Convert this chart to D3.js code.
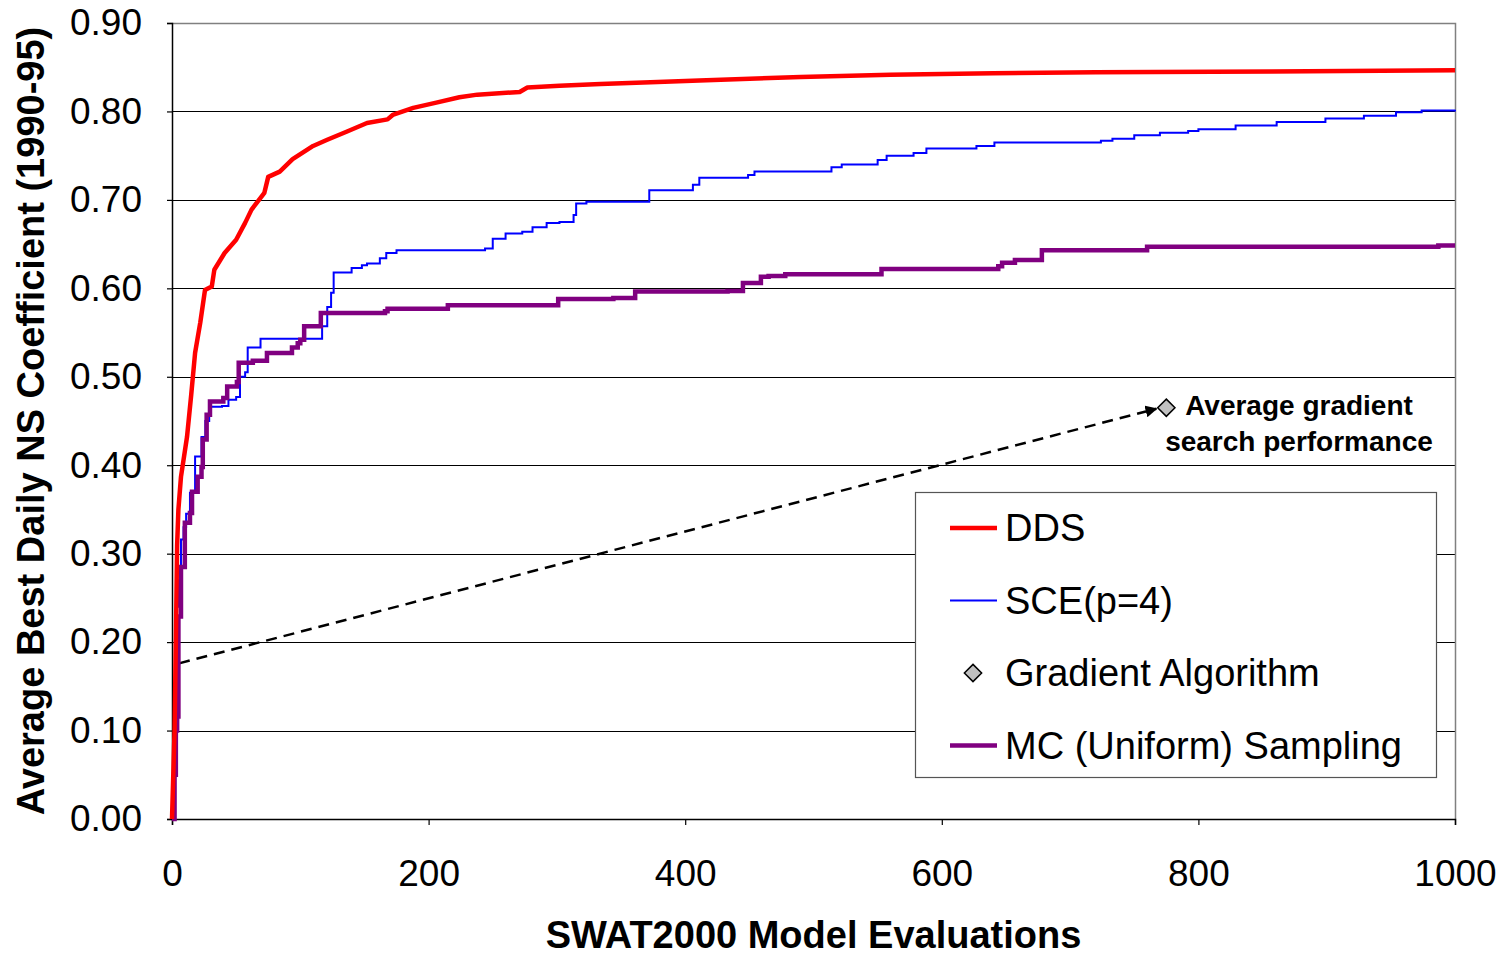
<!DOCTYPE html>
<html>
<head>
<meta charset="utf-8">
<script src="https://cdn.jsdelivr.net/npm/d3@7"></script>
<style>
  body { margin: 0; background: #fff; }
  svg text { font-family: "Liberation Sans", Arial, sans-serif; }
</style>
</head>
<body>
<div id="chart"></div>
<script>
// values: [evaluations, average best NS]
var ddsData = [[0,0],[2,0.10],[3,0.20],[4,0.31],[5,0.35],[7,0.387],[11.7,0.432],[15,0.48],[18,0.527],[22,0.561],
  [25.7,0.598],[31,0.602],[33,0.621],[41,0.640],[50,0.655],[57,0.674],[62,0.689],[72,0.708],[75,0.726],[84,0.732],
  [94,0.746],[110,0.761],[121,0.768],[136,0.777],[152,0.787],[168,0.791],[172,0.796],[188,0.804],[206,0.810],
  [224,0.816],[238,0.819],[271,0.822],[277,0.827],[302,0.829],[334,0.831],[373,0.833],[411,0.835],[490,0.839],
  [560,0.8415],[640,0.8432],[720,0.8443],[857,0.8452],[1000,0.8465]];

var sceData = [[0,0],[1,0.05],[2,0.12],[3,0.20],[4,0.24],[5,0.27],[6,0.285],[7,0.316],[9,0.33],[11,0.345],
  [14,0.369],[18,0.41],[23,0.432],[26,0.45],[29,0.466],[39,0.467],[44,0.474],[50,0.477],[53,0.50],[57,0.505],
  [59,0.533],[69,0.543],[117,0.557],[121,0.579],[124,0.595],[126,0.618],[140,0.623],[148,0.626],[152,0.628],
  [162,0.634],[167,0.640],[175,0.643],[244,0.645],[250,0.656],[260,0.662],[273,0.664],[281,0.669],[292,0.674],
  [302,0.675],[313,0.683],[315,0.696],[323,0.698],[372,0.711],[406,0.717],[411,0.725],[449,0.728],[454,0.732],
  [514,0.737],[522,0.740],[550,0.745],[557,0.750],[578,0.753],[588,0.758],[627,0.761],[641,0.765],[724,0.767],
  [733,0.769],[750,0.773],[770,0.776],[792,0.778],[800,0.780],[829,0.784],[861,0.788],[899,0.792],[929,0.795],
  [954,0.799],[974,0.801],[1000,0.802]];

var mcData = [[0,0],[2,0.05],[3,0.10],[4,0.116],[5,0.229],[7,0.285],[10,0.335],[14,0.346],[15.6,0.370],[20,0.387],
  [23,0.398],[24,0.429],[27,0.457],[29.6,0.472],[40,0.476],[43,0.489],[50.6,0.494],[52,0.516],[63,0.518],
  [74,0.527],[93.5,0.533],[98,0.538],[100,0.542],[103,0.557],[116,0.572],[166,0.574],[168,0.577],[215,0.581],
  [301,0.588],[344,0.589],[361,0.5965],[433,0.597],[445,0.606],[459,0.613],[465,0.614],[478,0.616],[553,0.622],
  [644,0.625],[647,0.629],[657,0.632],[678,0.643],[760,0.647],[987,0.6485],[1000,0.6485]];

var gradientPoint = [775, 0.465];
var gradientStart = [5.5, 0.176];

var xTicks = [0, 200, 400, 600, 800, 1000];
var yTicks = [0, 0.1, 0.2, 0.3, 0.4, 0.5, 0.6, 0.7, 0.8, 0.9];
var legendNames = ["DDS", "SCE(p=4)", "Gradient Algorithm", "MC (Uniform) Sampling"];

var margin = {top: 23, right: 48, bottom: 137, left: 172},
    width = 1503 - margin.left - margin.right,
    height = 956 - margin.top - margin.bottom;

var x = d3.scaleLinear().domain([0, 1000]).range([0, width]);
var y = d3.scaleLinear().domain([0, 0.9]).range([height, 0]);

var svg = d3.select("#chart").append("svg")
    .attr("width", 1503)
    .attr("height", 956);

var defs = svg.append("defs");
defs.append("marker")
    .attr("id", "arrow")
    .attr("viewBox", "0 0 10 10")
    .attr("refX", 9).attr("refY", 5)
    .attr("markerWidth", 12).attr("markerHeight", 12)
    .attr("markerUnits", "userSpaceOnUse")
    .attr("orient", "auto")
    .append("path")
    .attr("d", "M0,0L10,5L0,10Z")
    .attr("fill", "#000");

var canvas = svg.append("g")
    .attr("transform", "translate(" + margin.left + "," + margin.top + ")");

// gridlines
canvas.selectAll(".grid")
    .data(yTicks.slice(1, -1))
    .enter().append("line")
    .attr("x1", 0).attr("x2", width)
    .attr("y1", function(d){ return Math.round(y(d)) + 0.5; })
    .attr("y2", function(d){ return Math.round(y(d)) + 0.5; })
    .attr("stroke", "#000")
    .attr("stroke-width", 1);

// plot border top/right
canvas.append("path")
    .attr("d", "M0,0.5H" + (width + 0.5) + "V" + height)
    .attr("fill", "none")
    .attr("stroke", "#808080")
    .attr("stroke-width", 1.5);

var yAxis = d3.axisLeft(y).tickValues(yTicks).tickFormat(d3.format(".2f")).tickSize(5).tickPadding(25);
var xAxis = d3.axisBottom(x).tickValues(xTicks).tickFormat(d3.format("d")).tickSize(6).tickPadding(35);

var gy = canvas.append("g").call(yAxis);
var gx = canvas.append("g").attr("transform", "translate(0," + height + ")").call(xAxis);

[gy, gx].forEach(function(g){
    g.select(".domain").attr("stroke", "#000").attr("stroke-width", 1.5);
    g.selectAll(".tick line").attr("stroke", "#000").attr("stroke-width", 1.2);
    g.selectAll("text")
        .attr("font-size", 37)
        .attr("font-family", "'Liberation Sans', Arial, sans-serif")
        .attr("fill", "#000");
});

// dashed annotation arrow
canvas.append("line")
    .attr("x1", x(gradientStart[0])).attr("y1", y(gradientStart[1]))
    .attr("x2", x(gradientPoint[0]) - 10).attr("y2", y(gradientPoint[1]) + 1)
    .attr("stroke", "#000")
    .attr("stroke-width", 2.5)
    .attr("stroke-dasharray", "11,7")
    .attr("marker-end", "url(#arrow)");

var diamond = d3.symbol().type(d3.symbolDiamond2).size(190);

canvas.append("path")
    .attr("d", diamond())
    .attr("transform", "translate(" + x(gradientPoint[0]) + "," + y(gradientPoint[1]) + ")")
    .attr("fill", "#c0c0c0")
    .attr("stroke", "#000")
    .attr("stroke-width", 1.5);

var note = canvas.append("text")
    .attr("text-anchor", "middle")
    .attr("font-size", 28)
    .attr("font-weight", "bold")
    .attr("fill", "#000");
note.append("tspan").attr("x", 1299 - margin.left).attr("y", 415 - margin.top).text("Average gradient");
note.append("tspan").attr("x", 1299 - margin.left).attr("y", 451 - margin.top).text("search performance");

// series
var line = d3.line()
    .x(function(d){ return x(d[0]); })
    .y(function(d){ return y(d[1]); });

var stepLine = d3.line()
    .curve(d3.curveStepAfter)
    .x(function(d){ return x(d[0]); })
    .y(function(d){ return y(d[1]); });

canvas.append("path").datum(sceData)
    .attr("d", stepLine)
    .attr("fill", "none").attr("stroke", "#0000ff").attr("stroke-width", 2);

canvas.append("path").datum(mcData)
    .attr("d", stepLine)
    .attr("fill", "none").attr("stroke", "#800080").attr("stroke-width", 4.5);

canvas.append("path").datum(ddsData)
    .attr("d", line)
    .attr("fill", "none").attr("stroke", "#ff0000").attr("stroke-width", 4.5)
    .attr("stroke-linejoin", "round");

// legend
var legend = svg.append("g").attr("transform", "translate(915,492)");
legend.append("rect")
    .attr("x", 0.5).attr("y", 0.5)
    .attr("width", 521).attr("height", 285)
    .attr("fill", "#fff")
    .attr("stroke", "#555")
    .attr("stroke-width", 1.2);

var legendStyles = [
    {color: "#ff0000", w: 4.5},
    {color: "#0000ff", w: 2},
    {marker: true},
    {color: "#800080", w: 4.5}
];

legendNames.forEach(function(name, i){
    var cy = 36 + i * 72.5;
    var st = legendStyles[i];
    if (st.marker) {
        legend.append("path")
            .attr("d", diamond())
            .attr("transform", "translate(58," + cy + ")")
            .attr("fill", "#c0c0c0")
            .attr("stroke", "#000")
            .attr("stroke-width", 1.5);
    } else {
        legend.append("line")
            .attr("x1", 35).attr("x2", 82)
            .attr("y1", cy).attr("y2", cy)
            .attr("stroke", st.color)
            .attr("stroke-width", st.w);
    }
    legend.append("text")
        .attr("x", 90).attr("y", cy + 13)
        .attr("font-size", 38)
        .attr("fill", "#000")
        .text(name);
});

// axis titles
svg.append("text")
    .attr("x", margin.left + width / 2)
    .attr("y", 948)
    .attr("text-anchor", "middle")
    .attr("font-size", 38)
    .attr("font-weight", "bold")
    .text("SWAT2000 Model Evaluations");

svg.append("text")
    .attr("transform", "translate(44," + (margin.top + height / 2) + ") rotate(-90)")
    .attr("text-anchor", "middle")
    .attr("font-size", 38)
    .attr("font-weight", "bold")
    .text("Average Best Daily NS Coefficient (1990-95)");
</script>
</body>
</html>
